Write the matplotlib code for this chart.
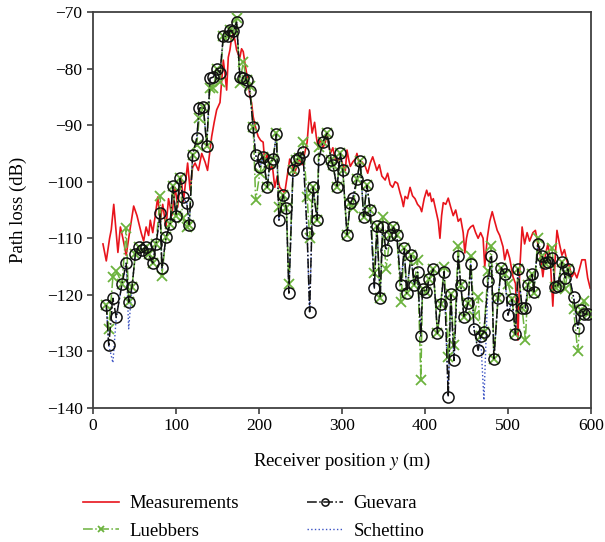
import matplotlib
matplotlib.use("Agg")
import matplotlib.pyplot as plt

plt.rcParams['font.family'] = ['Liberation Serif', 'DejaVu Serif']
plt.rcParams['mathtext.fontset'] = 'stix'

# Measurements (red)
meas_x = [12, 16, 20, 22, 25, 30, 33, 36, 40, 44, 49, 53, 58, 61, 64, 67, 69, 72, 75, 78,
          81, 84, 88, 91, 95, 99, 102, 106, 109, 114, 117, 120, 123, 127, 131, 135, 138, 143, 146, 149,
          153, 157, 159, 161, 163, 165, 167, 169, 171, 173, 175, 177, 179, 181, 183, 185, 187, 189, 191, 193,
          196, 199, 202, 205, 207, 210, 213, 216, 219, 222, 225, 228, 231, 234, 237, 240, 243, 246, 249, 252,
          255, 258, 261, 264, 267, 269, 271, 274, 277, 280, 282, 284, 286, 289, 291, 294, 298, 301, 304, 306,
          308, 310, 313, 316, 318, 321, 324, 328, 331, 334, 337, 340, 342, 345, 348, 352, 355, 358, 361, 364,
          367, 370, 372, 374, 376, 379, 382, 385, 388, 391, 394, 396, 399, 402, 404, 406, 408, 410, 413, 416,
          418, 420, 422, 425, 428, 431, 434, 437, 440, 443, 446, 448, 450, 452, 455, 458, 461, 464, 467, 470,
          472, 475, 478, 481, 484, 487, 490, 494, 496, 499, 502, 506, 509, 511, 512, 514, 517, 520, 523, 526,
          530, 533, 536, 539, 542, 545, 548, 551, 554, 557, 559, 562, 565, 568, 571, 574, 577, 580, 583, 586,
          589, 593, 596, 599]
meas_y = [-111, -114, -110, -108.5, -104, -112.5, -108, -110, -113, -109, -104.3, -106, -109, -110.5, -108, -109.5, -106.8, -109, -106, -102.7,
          -107, -104, -108, -103, -106, -101, -104.5, -99, -103.5, -96.7, -101.5, -97.5, -96.7, -98, -95, -96.5, -98, -92, -89.5, -87.3,
          -86, -78.5, -81, -83.8, -78, -76.7, -74.5, -73.8, -75, -76.7, -77.5, -78, -76.5, -77, -79, -80.8, -82, -85, -86, -88.5,
          -90.5, -92, -92.7, -93, -96.7, -95, -98, -97, -101, -99, -101, -101.5, -102, -99, -96, -97, -98.5, -97, -96, -97,
          -95, -93, -87.3, -91.4, -89.5, -92, -93.8, -92.5, -94, -93, -91.4, -93.5, -95, -94, -95.6, -96.5, -95.6, -97, -98, -94.4,
          -96, -97.3, -96.5, -96, -95, -97, -96.5, -97.3, -98.5, -96.7, -95.6, -97, -98, -97, -99, -99.7, -98.5, -100.5, -101, -100,
          -100.3, -102, -103, -104.4, -102.6, -103, -101, -102.5, -103, -104, -104.5, -105.3, -103, -101.5, -102.5, -102, -103.5, -103, -105, -107,
          -110, -106, -103.7, -104, -102.9, -104.5, -106, -105, -107, -106.5, -109, -112.6, -110, -108.6, -108, -107.7, -109, -110, -109, -110,
          -115, -110, -107, -105.3, -107, -108.6, -109.5, -111.5, -113.8, -112, -113.5, -116.8, -118, -124.5, -128, -116, -108, -111, -109, -110.5,
          -109, -108.6, -111, -113, -116.8, -113, -111, -114, -122, -113, -108.6, -111, -113, -112, -114, -115, -116.8, -116, -117, -115.5,
          -113.8, -113.8, -117, -118.8]

# Model positions
model_x = [16, 19, 24, 28, 35, 40, 43, 47, 51, 55, 59, 64, 67, 72, 76, 81, 83, 88, 93, 96,
           100, 105, 108, 113, 116, 120, 125, 128, 133, 137, 141, 145, 149, 153, 157, 163, 165, 169, 173, 177,
           181, 185, 189, 193, 196, 201, 205, 210, 213, 217, 221, 224, 229, 233, 236, 241, 245, 248, 253, 258,
           261, 265, 270, 272, 277, 282, 287, 289, 294, 298, 301, 306, 310, 313, 318, 322, 326, 330, 334, 339,
           342, 346, 349, 353, 358, 362, 366, 371, 375, 378, 383, 387, 391, 395, 397, 401, 405, 410, 415, 419,
           423, 428, 431, 435, 440, 443, 447, 452, 455, 459, 464, 467, 471, 476, 480, 483, 488, 492, 496, 500,
           505, 509, 512, 517, 521, 524, 529, 531, 536, 541, 545, 548, 553, 557, 560, 565, 569, 572, 579, 584,
           588, 592, 596]

guevara_y = [-121.8, -128.9, -120.6, -124, -118, -114.4, -121.3, -118.6, -112.8, -111.6, -112, -111.6, -112.8, -114.4, -111, -105.6, -115.3, -109.8, -107.4, -100.8,
             -106, -99.4, -102.7, -103.8, -107.6, -95.3, -92.3, -87, -86.8, -93.6, -81.7, -81.5, -80, -80.8, -74.3, -74.3, -73.2, -73.4, -71.8, -81.5,
             -81.7, -82, -84, -90.4, -95.3, -97.4, -95.6, -101, -96.7, -96, -91.6, -106.8, -102.3, -104.6, -119.7, -98, -96.2, -95.8, -94.7, -109.1,
             -123, -100.9, -106.8, -96, -93, -91.4, -96.2, -97, -101, -95, -98, -109.4, -103.8, -102.9, -99.6, -96.3, -106.2, -100.6, -105, -118.8,
             -107.8, -120.5, -108, -112.1, -109.5, -108, -109.5, -118.2, -111.8, -119.7, -113, -118.2, -116, -127.3, -119, -119.5, -117.2, -115.4, -126.8, -121.6,
             -115.9, -138, -119.9, -131.6, -113.2, -118.2, -124, -121.4, -114.6, -126, -129.8, -127.3, -126.6, -117.6, -113.2, -131.3, -120.6, -115.2, -116.4, -123.6,
             -120.8, -127, -115.4, -122.3, -122.3, -118.2, -116.4, -119.5, -111, -113.2, -114.4, -114.2, -113.4, -118.6, -118.4, -114.2, -117, -115.4, -120.4, -125.9,
             -122.7, -123.4, -123.4]

luebbers_y = [-121.8, -126, -116.8, -115.8, -118, -108.2, -121.3, -118.6, -112.8, -111.6, -112, -111.6, -112.8, -114.4, -111, -102.5, -116.6, -109.8, -107.4, -100.8,
              -106, -99.4, -106.5, -108, -107.6, -95.3, -93.5, -88.7, -86.8, -93.6, -83.5, -83.5, -80, -82.4, -74.3, -74.3, -73.2, -73.4, -71, -82.6,
              -78.8, -82, -83, -90.4, -103.3, -98.5, -95.6, -101, -96.7, -96, -91.4, -104.4, -102.3, -104.6, -118, -98, -96.2, -95.8, -93, -102.7,
              -110, -100.9, -106.8, -93.8, -93, -91.4, -96.2, -97, -101, -95, -98, -109.4, -103.8, -104.6, -99.6, -96.3, -106.2, -100.6, -105, -116.2,
              -107.8, -120.5, -106.3, -115.5, -109.5, -108, -109.5, -121.2, -111.8, -119.7, -113, -118.2, -113.9, -135, -119, -119.5, -117.2, -115.4, -126.8, -121.6,
              -115, -131, -119.9, -128.9, -111.4, -118.2, -124, -121.4, -113.1, -123.8, -120.3, -127.3, -126.6, -115.7, -111.4, -131.3, -120.6, -115.2, -116.4, -118,
              -120.8, -127, -115.4, -122.3, -128, -118.2, -116.4, -119.7, -110, -113.2, -114.4, -114.2, -111.7, -118.6, -118.4, -114.2, -119, -115.4, -122.5, -130,
              -122.7, -121, -123.4]

schettino_y = [-121.8, -128.9, -132, -124, -118, -114.4, -126, -118.6, -112.8, -111.6, -112, -111.6, -112.8, -114.4, -111, -105.6, -115.3, -109.8, -107.4, -100.8,
               -106, -99.4, -102.7, -103.8, -107.6, -95.3, -92.3, -87, -86.8, -93.6, -81.7, -81.5, -80, -80.8, -74.3, -74.3, -73.2, -73.4, -71.8, -81.5,
               -81.7, -82, -84, -90.4, -95.3, -97.4, -95.6, -101, -96.7, -96, -91.6, -106.8, -102.3, -104.6, -119.7, -98, -96.2, -95.8, -94.7, -109.1,
               -123, -100.9, -106.8, -96, -93, -91.4, -96.2, -97, -101, -95, -98, -109.4, -103.8, -102.9, -99.6, -96.3, -106.2, -100.6, -105, -118.8,
               -107.8, -120.5, -108, -112.1, -109.5, -108, -109.5, -118.2, -111.8, -119.7, -113, -118.2, -116, -127.3, -119, -119.5, -117.2, -115.4, -126.8, -121.6,
               -115.9, -138, -119.9, -131.6, -113.2, -118.2, -124, -121.4, -114.6, -126, -129.8, -127.3, -138.6, -117.6, -113.2, -131.3, -120.6, -115.2, -116.4, -123.6,
               -120.8, -127, -115.4, -122.3, -122.3, -118.2, -116.4, -119.5, -111, -113.2, -114.4, -114.2, -113.4, -118.6, -118.4, -114.2, -117, -115.4, -120.4, -125.9,
               -122.7, -123.4, -123.4]

x_ticks = [0, 100, 200, 300, 400, 500, 600]
y_ticks = [-140, -130, -120, -110, -100, -90, -80, -70]

fig = plt.figure(figsize=(6.05, 5.42), dpi=100)
ax = fig.add_axes([93/605, 1-408/542, 498/605, 396/542])

ax.plot(meas_x, meas_y, color='#e8141c', lw=1.2, label='Measurements', zorder=2)
ax.plot(model_x, schettino_y, color='#3a52c4', lw=1.0, ls=':', label='Schettino', zorder=3)
ax.plot(model_x, luebbers_y, color='#6cb33e', lw=1.1, ls='-.', marker='x', ms=6.5, mew=1.3,
        label='Luebbers', zorder=4)
ax.plot(model_x, guevara_y, color='#111111', lw=1.1, ls='-.', marker='o', ms=8, mfc='none',
        mew=1.1, label='Guevara', zorder=5)

ax.set_xlim(0, 600)
ax.set_ylim(-140, -70)
ax.set_xticks(x_ticks)
ax.set_yticks(y_ticks)
ax.tick_params(direction='out', length=4, width=1.2, color='#404040', labelsize=12.5)
for s in ax.spines.values():
    s.set_color('#404040')
    s.set_linewidth(1.3)

ax.set_xlabel(r'Receiver position $y$ (m)', fontsize=13.5, labelpad=12)
ax.set_ylabel('Path loss (dB)', fontsize=13.5, labelpad=14)

h, l = ax.get_legend_handles_labels()
order = ['Measurements', 'Luebbers', 'Guevara', 'Schettino']
hh = [h[l.index(k)] for k in order]
fig.legend(hh, order, loc='upper left', bbox_to_anchor=(83/605, 1-495/542), ncol=2,
           frameon=False, fontsize=13.5, borderpad=0, borderaxespad=0, handlelength=1.9,
           handletextpad=0.6, columnspacing=3.6, labelspacing=0.55, markerscale=0.65)

fig.savefig('out.png', dpi=100)
